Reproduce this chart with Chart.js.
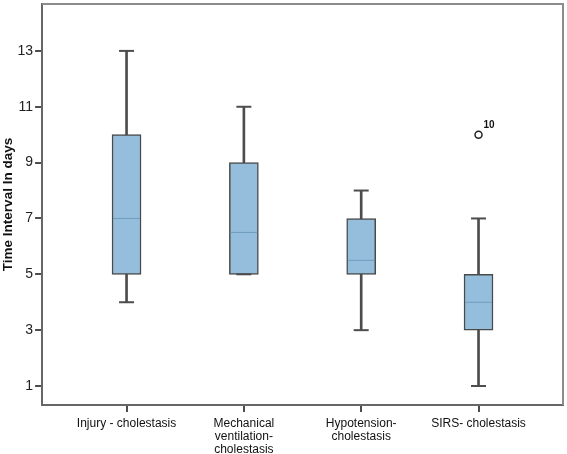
<!DOCTYPE html>
<html>
<head>
<meta charset="utf-8">
<script src="https://cdn.jsdelivr.net/npm/chart.js@4"></script>
<style>
  body { margin: 0; background: #fff; }
  #wrap { width: 567px; height: 454px; }
</style>
</head>
<body>
<div id="wrap"><canvas id="boxChart" width="567" height="454"></canvas></div>
<script>
// box plot values per group
const categories = ['Injury - cholestasis', ['Mechanical', 'ventilation-', 'cholestasis'], ['Hypotension-', 'cholestasis'], 'SIRS- cholestasis'];
const whiskerLow = [4, 5, 3, 1];
const q1 = [5, 5, 5, 3];
const medians = [7, 6.5, 5.5, 4];
const q3 = [10, 9, 7, 5];
const whiskerHigh = [13, 11, 8, 7];
const outlierGroup = [3];
const outlierValues = [10];
const outlierLabels = ['10'];
const yTicks = [1, 3, 5, 7, 9, 11, 13];
const yTitle = 'Time Interval In days';

const FONT = "'Liberation Sans', Arial, sans-serif";

const framePlugin = {
  id: 'frame',
  beforeDatasetsDraw(chart) {
    const { ctx, chartArea: a } = chart;
    ctx.save();
    ctx.strokeStyle = '#8c8c8c';
    ctx.lineWidth = 2;
    ctx.beginPath();
    ctx.moveTo(a.left, a.top);
    ctx.lineTo(a.right, a.top);
    ctx.lineTo(a.right, a.bottom);
    ctx.stroke();
    ctx.restore();
  },
  afterDatasetsDraw(chart) {
    // number next to each outlier
    const meta = chart.getDatasetMeta(4);
    const ctx = chart.ctx;
    ctx.save();
    ctx.font = 'bold 10px ' + FONT;
    ctx.fillStyle = '#111';
    ctx.textAlign = 'left';
    ctx.textBaseline = 'middle';
    meta.data.forEach((pt, i) => {
      ctx.fillText(outlierLabels[i], pt.x + 5, pt.y - 9);
    });
    ctx.restore();
  }
};

new Chart(document.getElementById('boxChart'), {
  type: 'bar',
  data: {
    datasets: [
      {
        label: 'whisker',
        data: categories.map((c, i) => ({ x: i, y: [whiskerLow[i], whiskerHigh[i]] })),
        backgroundColor: '#4d4d4d',
        borderWidth: 0,
        barThickness: 2,
        grouped: false,
        order: 5
      },
      {
        label: 'box',
        data: categories.map((c, i) => ({ x: i, y: [q1[i], q3[i]] })),
        backgroundColor: '#94bedb',
        borderColor: '#4a4a4a',
        borderWidth: 1.5,
        borderSkipped: false,
        barThickness: 29,
        grouped: false,
        order: 4
      },
      {
        type: 'line',
        label: 'median',
        data: categories.map((c, i) => ({ x: i, y: medians[i] })),
        showLine: false,
        pointStyle: 'line',
        pointRadius: 13.5,
        pointBorderWidth: 1,
        pointBorderColor: '#6f9dbd',
        order: 3
      },
      {
        type: 'line',
        label: 'caps',
        data: categories.flatMap((c, i) => [{ x: i, y: whiskerLow[i] }, { x: i, y: whiskerHigh[i] }]),
        showLine: false,
        pointStyle: 'line',
        pointRadius: 7.5,
        pointBorderWidth: 2,
        pointBorderColor: '#4d4d4d',
        order: 2
      },
      {
        type: 'line',
        label: 'outliers',
        data: outlierGroup.map((g, i) => ({ x: g, y: outlierValues[i] })),
        showLine: false,
        pointStyle: 'circle',
        pointRadius: 3.5,
        pointBorderWidth: 1.5,
        pointBorderColor: '#222',
        pointBackgroundColor: '#fff',
        order: 1
      }
    ]
  },
  options: {
    responsive: false,
    animation: false,
    events: [],
    layout: { autoPadding: false, padding: { top: 4, right: 4, left: 0, bottom: 0 } },
    plugins: {
      legend: { display: false },
      tooltip: { enabled: false }
    },
    scales: {
      x: {
        type: 'linear',
        min: -0.72,
        max: 3.72,
        offset: false,
        afterBuildTicks: (axis) => { axis.ticks = categories.map((c, i) => ({ value: i })); },
        afterFit: (axis) => { axis.paddingLeft = 0; axis.paddingRight = 0; axis.height = 49; },
        ticks: {
          callback: (v) => categories[v],
          font: { family: FONT, size: 12, lineHeight: 1.08 },
          color: '#111',
          padding: 5,
          maxRotation: 0,
          autoSkip: false
        },
        grid: { offset: false, drawOnChartArea: false, drawTicks: true, tickLength: 7, color: '#4d4d4d', lineWidth: 2 },
        border: { color: '#666', width: 2 }
      },
      y: {
        min: 0.32,
        max: 14.68,
        afterBuildTicks: (axis) => { axis.ticks = yTicks.map((v) => ({ value: v })); },
        afterFit: (axis) => { axis.paddingTop = 0; axis.paddingBottom = 0; },
        ticks: {
          font: { family: FONT, size: 14 },
          color: '#222',
          padding: 2
        },
        grid: { drawOnChartArea: false, drawTicks: true, tickLength: 7, color: '#4d4d4d', lineWidth: 2 },
        border: { color: '#666', width: 2 },
        title: {
          display: true,
          text: yTitle,
          font: { family: FONT, size: 13.5, weight: 'bold', lineHeight: 1 },
          color: '#111',
          padding: { top: 2, bottom: 0 }
        }
      }
    }
  },
  plugins: [framePlugin]
});
</script>
</body>
</html>
